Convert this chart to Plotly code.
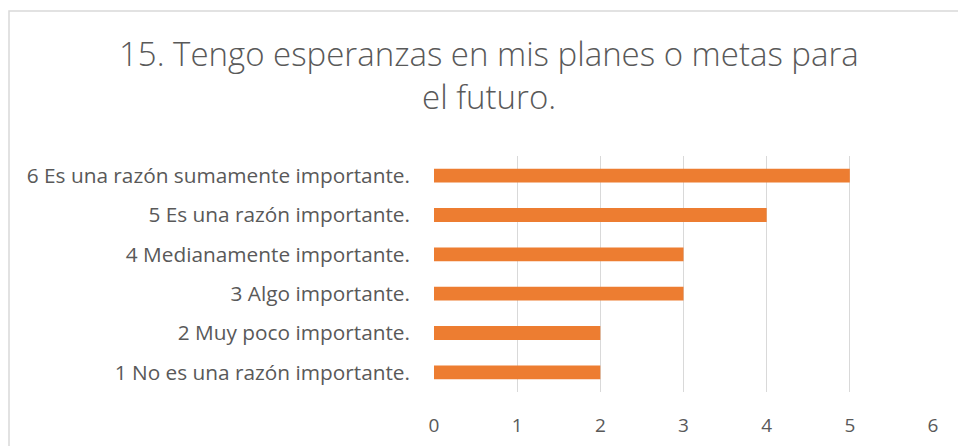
import plotly.graph_objects as go

categories = [
    "1 No es una razón importante.",
    "2 Muy poco importante.",
    "3 Algo importante.",
    "4 Medianamente importante.",
    "5 Es una razón importante.",
    "6 Es una razón sumamente importante.",
]
values = [2, 2, 3, 3, 4, 5]
x_ticks = [0, 1, 2, 3, 4, 5, 6]
title_lines = ["15. Tengo esperanzas en mis planes o metas para", "el futuro."]

FONT = "Open Sans"
TEXT = "#595959"
H = 446
PT, PB = 156, 392  # plot area top/bottom in pixels
PH = PB - PT

fig = go.Figure(go.Bar(
    y=categories, x=values, orientation="h",
    marker=dict(color="#ED7D31", line=dict(width=0)),
    width=0.35,
))

title_y = [53, 96]
annotations = [
    dict(text=t, xref="paper", yref="paper",
         x=(489 - 434) / 499, y=(PB - yy) / PH,
         xanchor="center", yanchor="middle", showarrow=False,
         font=dict(family=FONT, size=33, color=TEXT, weight=300))
    for t, yy in zip(title_lines, title_y)
]

fig.update_layout(
    width=958, height=H,
    margin=dict(l=434, r=25, t=PT, b=H - PB),
    paper_bgcolor="white", plot_bgcolor="white",
    showlegend=False,
    font=dict(family=FONT, color=TEXT, size=20),
    annotations=annotations,
    xaxis=dict(
        range=[0, 6], tickvals=x_ticks, showgrid=True,
        gridcolor="#D9D9D9", gridwidth=1, zeroline=False,
        showline=False, ticks="", ticklabelstandoff=20,
        tickfont=dict(size=19, color=TEXT), automargin=False,
    ),
    yaxis=dict(
        categoryorder="array", categoryarray=categories,
        showgrid=False, zeroline=False, showline=False,
        ticks="", ticklabelstandoff=23,
        tickfont=dict(size=20.8, color=TEXT), automargin=False,
    ),
    shapes=[dict(
        type="rect", xref="paper", yref="paper",
        x0=(9 - 434) / 499, x1=(970 - 434) / 499,
        y0=-(460 - PB) / PH, y1=(PB - 11) / PH,
        line=dict(color="#D9D9D9", width=1.5), fillcolor="rgba(0,0,0,0)",
        layer="below",
    )],
)

fig.write_html("out.html", config={"displayModeBar": False},
               post_script="document.body.style.margin='0px';")
